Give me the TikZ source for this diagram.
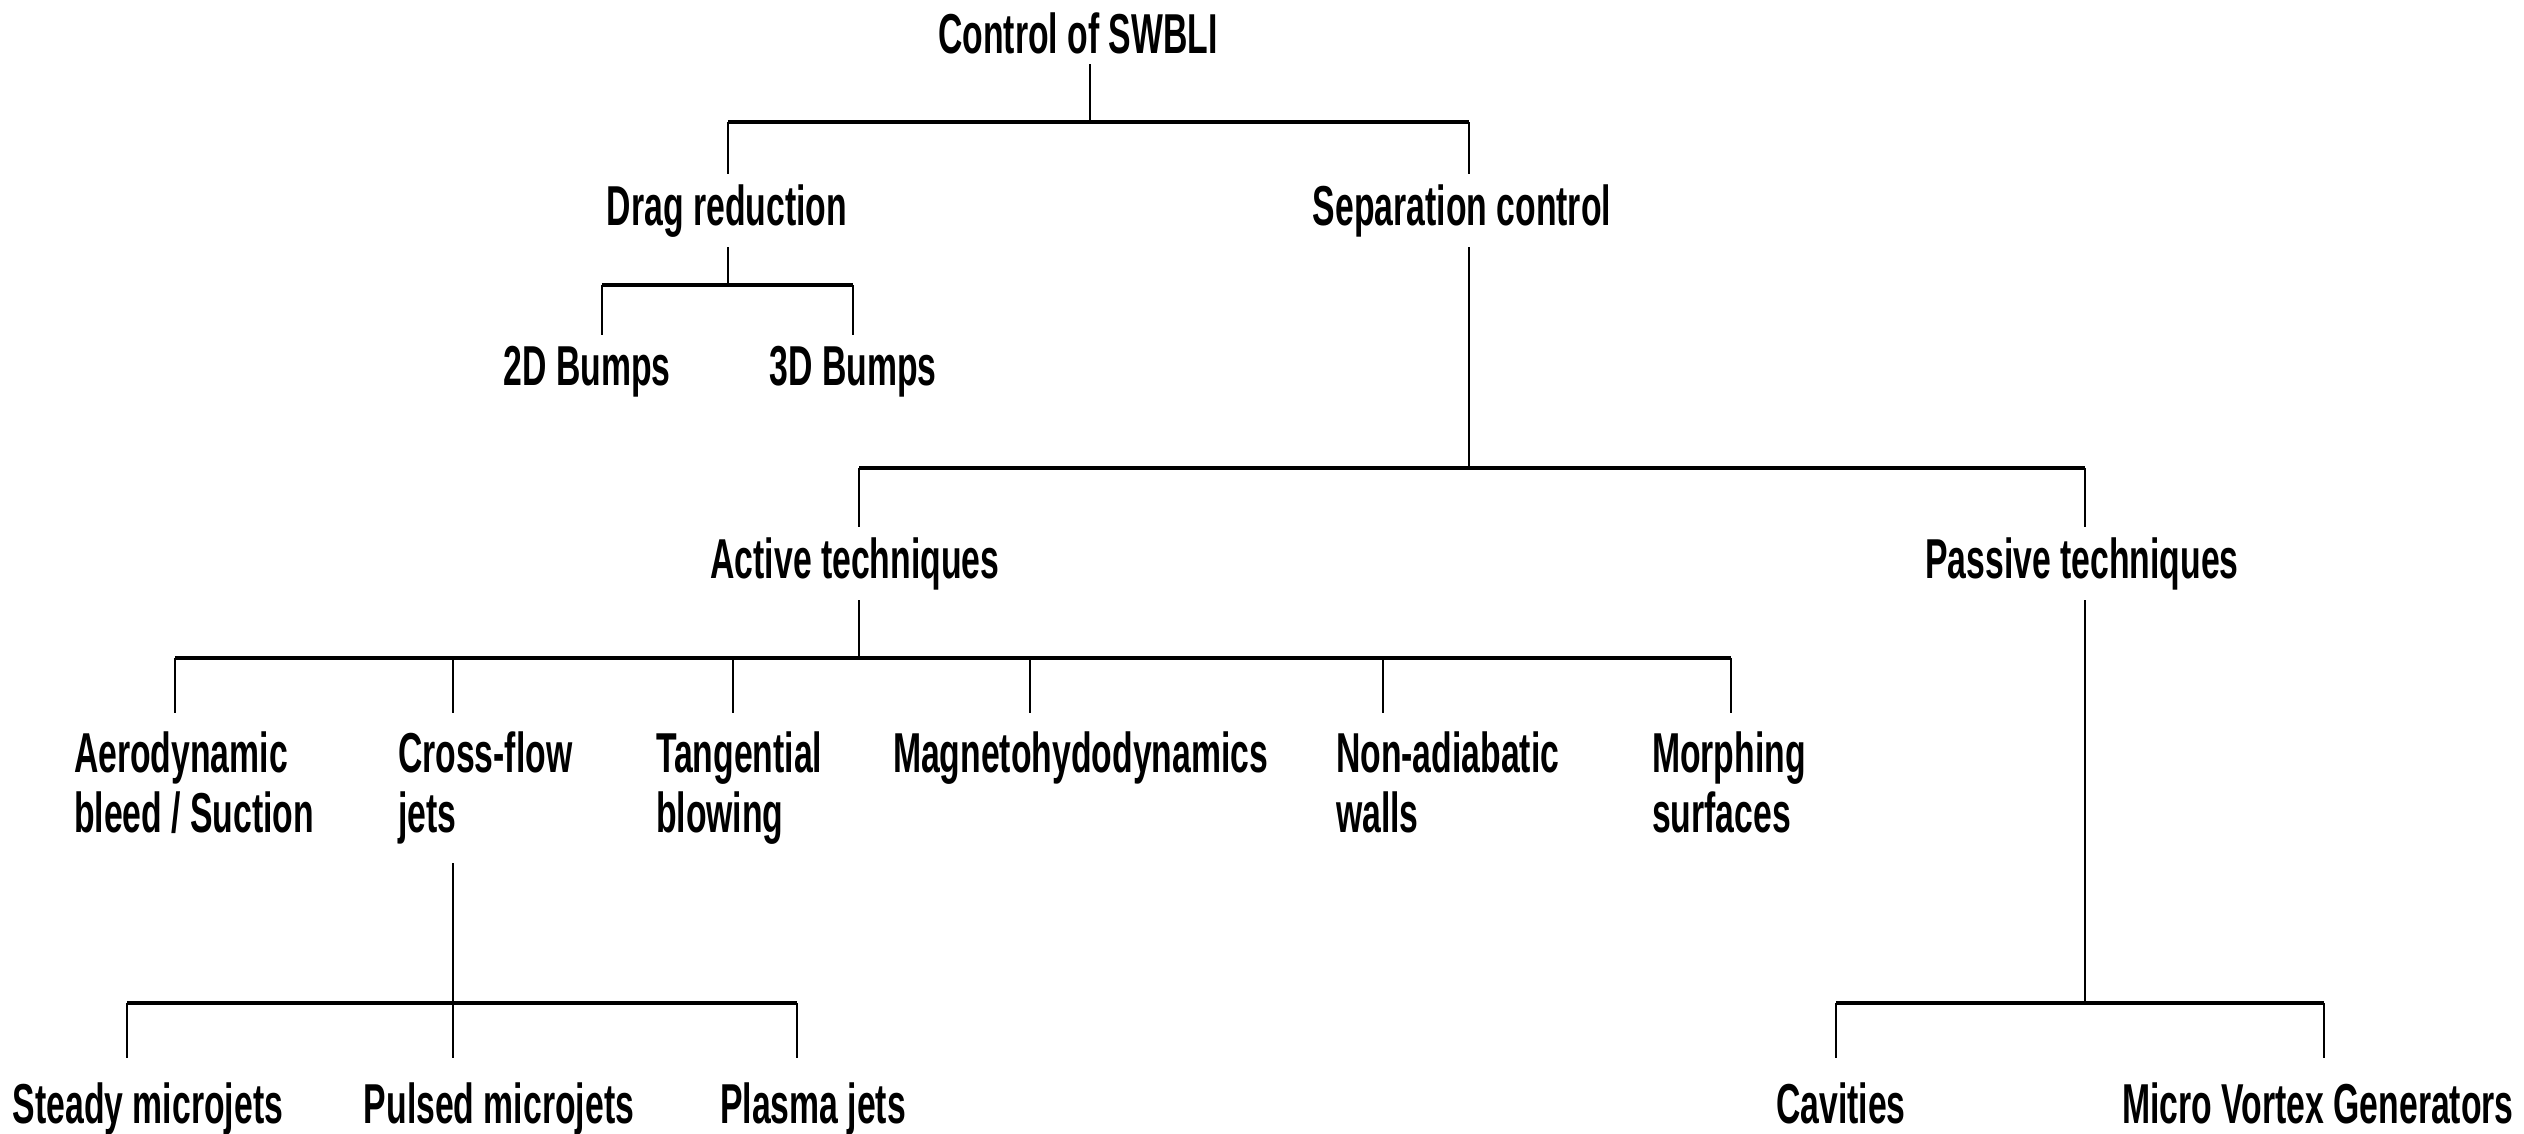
\documentclass[tikz,border=0pt]{standalone}
\usepackage{fontspec}
\newfontfamily\lblfont{Liberation Sans}[FakeStretch=0.6]

\begin{document}
\begin{tikzpicture}[x=0.01cm, y=-0.01cm,
    lbl/.style={font=\lblfont\bfseries\fontsize{16}{17}\selectfont, inner sep=0pt, outer sep=3pt, anchor=base},
    leaf/.style={lbl, outer ysep=7pt},
    multi/.style={lbl, align=left, anchor=north west, outer xsep=0pt, outer ysep=5.4pt},
    stem/.style={line width=0.7pt},
    bar/.style={line width=1.4pt}]

    \useasboundingbox (0,0) rectangle (2524,1133);

    % labels
    \node[lbl] (ctrl) at (1078,53) {Control of SWBLI};
    \node[lbl] (drag) at (727,225) {Drag reduction};
    \node[lbl] (sep) at (1462,225) {Separation control};
    \node[lbl] (bumpa) at (587,385) {2D Bumps};
    \node[lbl] (bumpb) at (853,385) {3D Bumps};
    \node[lbl] (active) at (855,578) {Active techniques};
    \node[lbl] (passive) at (2082,578) {Passive techniques};

    \node[multi] (aero) at (74,713) {Aerodynamic\\bleed / Suction};
    \node[multi] (cross) at (398,713) {Cross-flow\\jets};
    \node[multi] (tang) at (656,713) {Tangential\\blowing};
    \node[multi] (magneto) at (893,713) {Magnetohydodynamics};
    \node[multi] (nonadia) at (1336,713) {Non-adiabatic\\walls};
    \node[multi] (morph) at (1652,713) {Morphing\\surfaces};

    \node[leaf] (steady) at (148,1123) {Steady microjets};
    \node[leaf] (pulsed) at (499,1123) {Pulsed microjets};
    \node[leaf] (plasma) at (813,1123) {Plasma jets};
    \node[leaf] (cav) at (1841,1123) {Cavities};
    \node[leaf] (mvg) at (2318,1123) {Micro Vortex Generators};

    % junctions on the bars
    \coordinate (j-ctrl) at (1090,122);
    \coordinate (j-drag) at (728,122);
    \coordinate (j-sep) at (1469,122);
    \coordinate (j-dragd) at (728,285);
    \coordinate (j-bumpa) at (602,285);
    \coordinate (j-bumpb) at (853,285);
    \coordinate (j-sepd) at (1469,468);
    \coordinate (j-active) at (859,468);
    \coordinate (j-passive) at (2085,468);
    \coordinate (j-actd) at (859,658);
    \coordinate (j-crossd) at (453,1003);
    \coordinate (j-steady) at (127,1003);
    \coordinate (j-plasma) at (797,1003);
    \coordinate (j-pasd) at (2085,1003);
    \coordinate (j-cav) at (1836,1003);
    \coordinate (j-mvg) at (2324,1003);

    % level 1
    \draw[stem] (ctrl.south -| j-ctrl) -- (j-ctrl);
    \draw[bar] (j-drag) -- (j-sep);
    \draw[stem] (j-drag) -- (drag.north -| j-drag);
    \draw[stem] (j-sep) -- (sep.north -| j-sep);

    % drag reduction
    \draw[stem] (drag.south -| j-dragd) -- (j-dragd);
    \draw[bar] (j-bumpa) -- (j-bumpb);
    \draw[stem] (j-bumpa) -- (bumpa.north -| j-bumpa);
    \draw[stem] (j-bumpb) -- (bumpb.north -| j-bumpb);

    % separation control
    \draw[stem] (sep.south -| j-sepd) -- (j-sepd);
    \draw[bar] (j-active) -- (j-passive);
    \draw[stem] (j-active) -- (active.north -| j-active);
    \draw[stem] (j-passive) -- (passive.north -| j-passive);

    % active techniques
    \draw[stem] (active.south -| j-actd) -- (j-actd);
    \foreach \n/\x in {aero/175, cross/453, tang/733, magneto/1030, nonadia/1383, morph/1731}{
        \coordinate (j-\n) at (\x,658);
        \draw[stem] (j-\n) -- (\n.north -| j-\n);
    }
    \draw[bar] (j-aero) -- (j-morph);

    % cross-flow jets
    \draw[stem] (cross.south -| j-crossd) -- (pulsed.north -| j-crossd);
    \draw[bar] (j-steady) -- (j-plasma);
    \draw[stem] (j-steady) -- (steady.north -| j-steady);
    \draw[stem] (j-plasma) -- (plasma.north -| j-plasma);

    % passive techniques
    \draw[stem] (passive.south -| j-pasd) -- (j-pasd);
    \draw[bar] (j-cav) -- (j-mvg);
    \draw[stem] (j-cav) -- (cav.north -| j-cav);
    \draw[stem] (j-mvg) -- (mvg.north -| j-mvg);

\end{tikzpicture}
\end{document}
